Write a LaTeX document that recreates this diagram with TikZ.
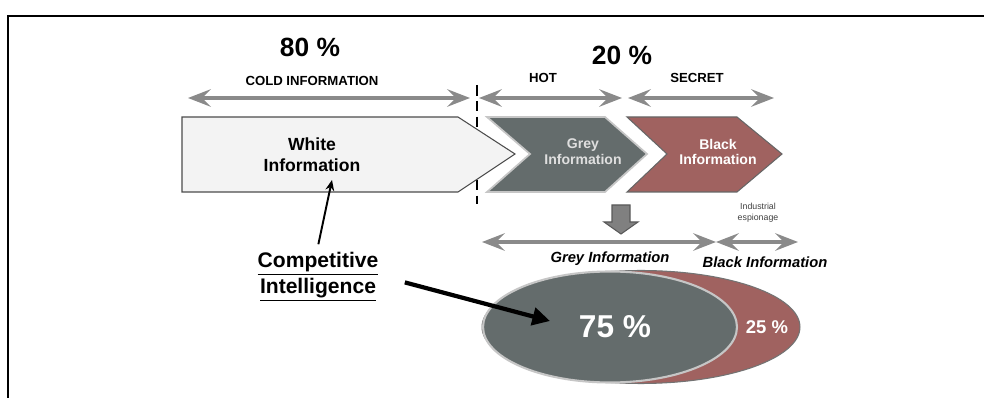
\documentclass[tikz,border=0pt]{standalone}
\usepackage{fontspec}
\setmainfont{Liberation Sans}
\usepackage{tikz}
\usetikzlibrary{shapes.geometric, arrows.meta, positioning, calc}
\definecolor{GreyInfo}{RGB}{100,108,108}
\definecolor{BlackInfo}{RGB}{160,98,96}
\definecolor{WhiteInfo}{RGB}{243,243,243}
\definecolor{SpanGrey}{RGB}{138,138,138}

\begin{document}
\begin{tikzpicture}[
  x=0.02cm, y=-0.02cm,
  pct/.style={font=\fontsize{15}{18}\selectfont\bfseries},
  head/.style={font=\fontsize{7.5}{9}\selectfont\bfseries},
  chevtext/.style={font=\fontsize{8}{9}\selectfont\bfseries, align=center,
                   text=white, inner sep=1pt},
  span/.style={{Stealth[length=13pt, width=10pt, inset=5pt]}-{Stealth[length=13pt, width=10pt, inset=5pt]},
               SpanGrey, line width=1.8pt},
  ptr/.style={-{Stealth[length=6pt, width=5pt]}, line width=1.1pt},
  bigptr/.style={-{Triangle[length=10pt, width=10pt]}, line width=2.4pt},
  blobtext/.style={text=white, font=\bfseries}
]
\useasboundingbox (0,0) rectangle (984,398);

% frame
\draw[line width=1.4pt] (8,398) -- (8,16) -- (984,16);

% headings
\node[pct]  (pct80)  at (310,47) {80 \%};
\node[head] (cold)   at (312,81) {COLD INFORMATION};
\node[pct]  (pct20)  at (622,55) {20 \%};
\node[head] (hot)    at (543,78) {HOT};
\node[head] (secret) at (697,78) {SECRET};

\draw[span] (188,98) -- (470,98);
\draw[span] (479,98) -- (622,98);
\draw[span] (628,98) -- (774,98);
\draw[dashed, dash pattern=on 6pt off 3pt, line width=1pt] (477,85) -- (477,204);

% chevrons
\draw[fill=WhiteInfo, draw=black!70, line width=0.6pt]
  (182,117) -- (458,117) -- (515,154) -- (458,192) -- (182,192) -- cycle;
\draw[fill=GreyInfo, draw=gray!45, line width=1pt]
  (487,117) -- (605,117) -- (647,154) -- (605,192) -- (487,192) -- (530,154) -- cycle;
\draw[fill=BlackInfo, draw=black!60, line width=0.6pt]
  (627,117) -- (737,117) -- (782,154) -- (737,192) -- (627,192) -- (667,154) -- cycle;

\node[font=\fontsize{10}{12}\selectfont\bfseries, align=center]
  (white) at (312,155) {White\\Information};
\node[chevtext, text=gray!25] (grey)  at (583,152) {Grey\\Information};
\node[chevtext]               (black) at (718,152) {Black\\Information};

% down arrow
\draw[fill=black!50, draw=black!65, line width=0.6pt]
  (612,205) -- (630,205) -- (630,222) -- (638,222) -- (621,234)
  -- (604,222) -- (612,222) -- cycle;

\node[font=\fontsize{5}{6}\selectfont, align=center, text=black!75]
  (spy) at (758,213) {Industrial\\espionage};

\draw[span] (482,242) -- (716,242);
\draw[span] (716,242) -- (798,242);
\node[font=\fontsize{8.4}{10}\selectfont\bfseries\itshape]
  (greylbl)  at (610,259) {Grey Information};
\node[font=\fontsize{8.4}{10}\selectfont\bfseries\itshape]
  (blacklbl) at (765,262) {Black Information};

% ellipses
\node[ellipse, fill=BlackInfo, draw=black!55, line width=0.6pt,
      minimum width=6.36cm, minimum height=2.26cm] (redblob) at (641,327) {};
\node[ellipse, fill=GreyInfo, draw=gray!45, line width=1.2pt,
      minimum width=5.08cm, minimum height=2.22cm] (greyblob) at (610,327) {};
\node[blobtext, font=\fontsize{18}{20}\selectfont\bfseries] (p75) at (615,327) {75 \%};
\node[blobtext, font=\fontsize{10.5}{12}\selectfont\bfseries] (p25) at (767,327) {25 \%};

% competitive intelligence
\node[font=\fontsize{12}{15}\selectfont\bfseries, align=center]
  (ci) at (318,277) {\underline{Competitive}\\\underline{Intelligence}};
\coordinate (wtip) at (332,180);
\coordinate (gtip) at (550,321);

\draw[ptr, shorten <=1pt] (ci.north) -- (wtip);
\draw[bigptr, shorten <=0.42cm] (ci.east) -- (gtip);

\end{tikzpicture}
\end{document}
